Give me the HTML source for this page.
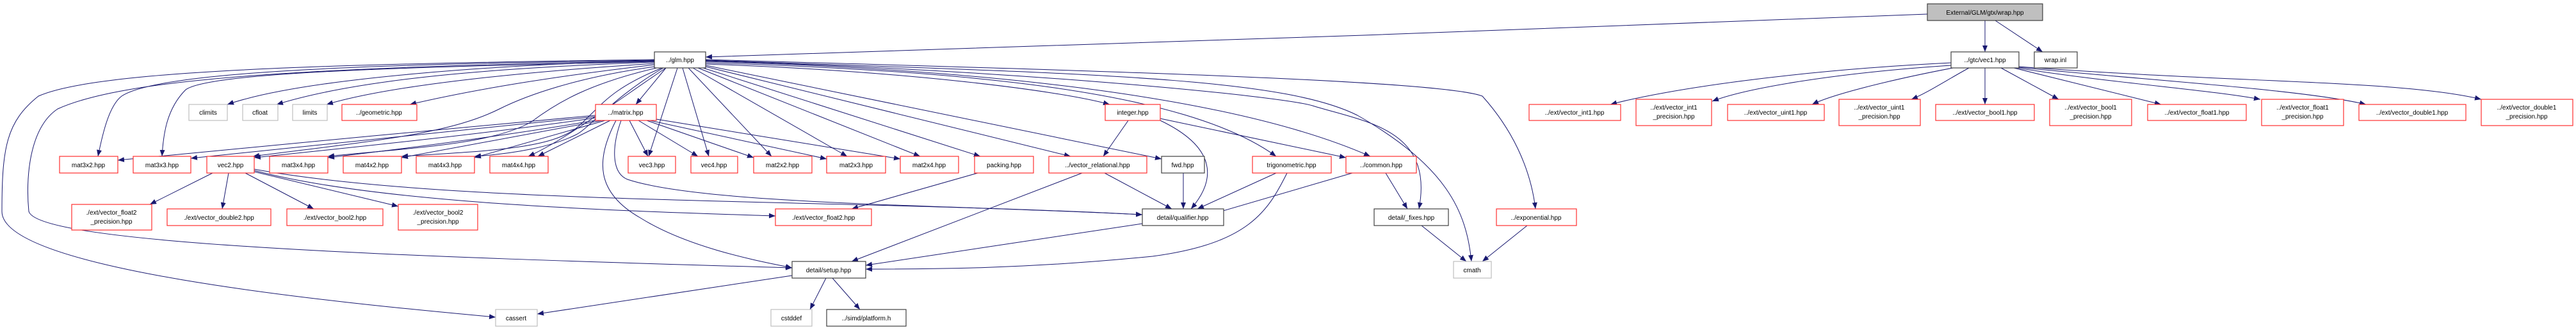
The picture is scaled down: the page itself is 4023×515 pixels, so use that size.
<!DOCTYPE html>
<html><head><meta charset="utf-8"><style>
html,body{margin:0;padding:0;background:#fff;width:4023px;height:515px;overflow:hidden}
svg{display:block}
text{font-family:"Liberation Sans",sans-serif;font-size:10px;fill:#000;text-anchor:middle}
.r{fill:#fff;stroke:#ff3030;stroke-width:1.2}
.k{fill:#fff;stroke:#404040;stroke-width:1.2}
.g{fill:#fff;stroke:#bfbfbf;stroke-width:1.2}
.e{fill:none;stroke:#191970;stroke-width:1}
</style></head><body>
<svg width="4023" height="515" viewBox="0 0 4023 515" xmlns="http://www.w3.org/2000/svg">
<defs><marker id="a" markerWidth="10" markerHeight="8" refX="10" refY="4" orient="auto" markerUnits="userSpaceOnUse"><path d="M0,0 L10,4 L0,8 z" fill="#191970"/></marker></defs>
<g class="e" marker-end="url(#a)">
<!-- wrap.hpp -->
<path d="M3100,32 L3100,81"/>
<path d="M3116,32 L3190,81"/>
<path d="M3010,22 C2500,45 1500,75 1102,89"/>
<!-- vec1 -->
<path d="M3047,98 C2800,110 2600,140 2515,163"/>
<path d="M3047,102 C2850,115 2720,140 2674,158"/>
<path d="M3050,106 C2950,125 2860,148 2830,163"/>
<path d="M3075,106 C3040,125 3010,145 2985,155"/>
<path d="M3100,106 L3100,163"/>
<path d="M3125,106 L3215,155"/>
<path d="M3145,106 L3375,163"/>
<path d="M3150,106 C3300,130 3450,140 3530,155"/>
<path d="M3152,105 C3350,125 3600,140 3695,163"/>
<path d="M3153,104 C3500,130 3750,125 3875,155"/>
<!-- glm -->
<path d="M1022,93 C500,100 150,110 60,150 C10,190 3,230 3,330 C3,420 500,470 774,495"/>
<path d="M1022,95 C500,105 200,120 90,170 C45,200 40,280 45,330 C60,380 600,400 1237,418"/>
<path d="M1022,94 C600,100 250,110 190,150 C170,165 160,210 153,244"/>
<path d="M1022,96 C700,104 330,110 290,140 C260,170 255,210 253,244"/>
<path d="M1022,95 C800,100 480,120 355,163"/>
<path d="M1022,97 C800,105 570,120 432,163"/>
<path d="M1022,99 C850,110 620,130 510,163"/>
<path d="M1022,101 C900,115 760,135 640,163"/>
<path d="M1030,103 C900,120 820,150 780,170 C700,210 580,220 395,244"/>
<path d="M1030,105 C920,130 870,160 830,190 C770,225 650,230 512,244"/>
<path d="M1034,106 C950,140 940,165 900,200 C860,230 780,235 627,244"/>
<path d="M1036,106 C960,150 920,200 900,210 C860,230 800,240 741,244"/>
<path d="M1040,106 C960,160 880,220 825,244"/>
<path d="M1040,106 L993,163"/>
<path d="M1058,106 L1013,244"/>
<path d="M1066,106 L1107,244"/>
<path d="M1075,106 L1205,244"/>
<path d="M1082,106 L1323,244"/>
<path d="M1090,106 L1437,244"/>
<path d="M1098,106 L1531,244"/>
<path d="M1102,104 L1672,244"/>
<path d="M1102,102 L1814,248"/>
<path d="M1102,100 C1400,110 1650,140 1733,163"/>
<path d="M1102,98 C1500,110 1850,140 1993,244"/>
<path d="M1102,96 C1600,110 1950,160 2140,244"/>
<path d="M1102,95 C1600,110 2000,150 2050,165 C2130,190 2240,200 2216,326"/>
<path d="M1102,94 C1700,115 2000,120 2120,180 C2260,260 2290,330 2298,408"/>
<path d="M1102,93 C1700,110 2250,125 2315,150 C2360,200 2390,260 2398,326"/>
<!-- matrix -->
<path d="M930,180 C700,200 400,230 184,250"/>
<path d="M930,182 C700,205 450,230 298,247"/>
<path d="M930,184 C750,210 550,230 397,246"/>
<path d="M935,187 C800,210 650,230 512,246"/>
<path d="M940,188 L627,246"/>
<path d="M945,188 L741,246"/>
<path d="M953,188 L840,244"/>
<path d="M983,188 L1012,244"/>
<path d="M997,188 L1090,244"/>
<path d="M1010,188 L1177,246"/>
<path d="M1015,188 L1291,248"/>
<path d="M1025,186 L1406,248"/>
<path d="M962,188 C930,250 930,300 1000,340 C1080,390 1200,410 1237,418"/>
<path d="M970,188 C955,230 955,270 980,280 C1100,320 1500,320 1784,335"/>
<!-- vec2 -->
<path d="M332,270 L234,319"/>
<path d="M357,270 L347,326"/>
<path d="M383,270 L490,326"/>
<path d="M397,268 L622,322"/>
<path d="M397,266 C600,320 1000,330 1211,337"/>
<path d="M397,264 C700,320 1300,310 1784,335"/>
<!-- others -->
<path d="M1527,270 L1330,326"/>
<path d="M1762,188 L1723,244"/>
<path d="M1812,188 C1900,230 1900,280 1860,326"/>
<path d="M1812,185 L2102,246"/>
<path d="M1725,270 L1830,326"/>
<path d="M1690,270 L1330,408"/>
<path d="M1848,270 L1848,326"/>
<path d="M1993,270 L1870,326"/>
<path d="M2010,270 C1980,330 1950,380 1800,400 C1600,420 1450,420 1352,420"/>
<path d="M2112,270 L1900,332"/>
<path d="M2164,270 L2198,326"/>
<path d="M1784,349 L1352,414"/>
<path d="M2220,352 L2290,408"/>
<path d="M2385,352 L2315,408"/>
<path d="M1237,430 L839,490"/>
<path d="M1290,434 L1265,483"/>
<path d="M1300,434 L1343,483"/>
</g>
<!-- nodes -->
<rect x="3010" y="6" width="180" height="26" fill="#bfbfbf" stroke="#404040" stroke-width="1.2"/><text x="3100" y="23">External/GLM/gtx/wrap.hpp</text>
<rect class="k" x="1022" y="81" width="80" height="25"/><text x="1062" y="97">../glm.hpp</text>
<rect class="k" x="3047" y="81" width="106" height="25"/><text x="3100" y="97">../gtc/vec1.hpp</text>
<rect class="k" x="3177" y="81" width="67" height="25"/><text x="3210" y="97">wrap.inl</text>
<rect class="g" x="295" y="163" width="60" height="25"/><text x="325" y="179">climits</text>
<rect class="g" x="379" y="163" width="55" height="25"/><text x="406" y="179">cfloat</text>
<rect class="g" x="457" y="163" width="54" height="25"/><text x="484" y="179">limits</text>
<rect class="r" x="534" y="163" width="117" height="25"/><text x="592" y="179">../geometric.hpp</text>
<rect class="r" x="930" y="163" width="95" height="25"/><text x="977" y="179">../matrix.hpp</text>
<rect class="r" x="1726" y="163" width="86" height="25"/><text x="1769" y="179">integer.hpp</text>
<rect class="r" x="2388" y="163" width="143" height="25"/><text x="2459" y="179">../ext/vector_int1.hpp</text>
<rect class="r" x="2555" y="155" width="118" height="41"/><text x="2614" y="171">../ext/vector_int1</text><text x="2614" y="185">_precision.hpp</text>
<rect class="r" x="2698" y="163" width="151" height="25"/><text x="2773" y="179">../ext/vector_uint1.hpp</text>
<rect class="r" x="2872" y="155" width="127" height="41"/><text x="2935" y="171">../ext/vector_uint1</text><text x="2935" y="185">_precision.hpp</text>
<rect class="r" x="3023" y="163" width="154" height="25"/><text x="3100" y="179">../ext/vector_bool1.hpp</text>
<rect class="r" x="3201" y="155" width="128" height="41"/><text x="3265" y="171">../ext/vector_bool1</text><text x="3265" y="185">_precision.hpp</text>
<rect class="r" x="3354" y="163" width="154" height="25"/><text x="3431" y="179">../ext/vector_float1.hpp</text>
<rect class="r" x="3532" y="155" width="128" height="41"/><text x="3596" y="171">../ext/vector_float1</text><text x="3596" y="185">_precision.hpp</text>
<rect class="r" x="3684" y="163" width="167" height="25"/><text x="3767" y="179">../ext/vector_double1.hpp</text>
<rect class="r" x="3875" y="155" width="143" height="41"/><text x="3946" y="171">../ext/vector_double1</text><text x="3946" y="185">_precision.hpp</text>
<rect class="r" x="93" y="244" width="91" height="26"/><text x="138" y="261">mat3x2.hpp</text>
<rect class="r" x="208" y="244" width="90" height="26"/><text x="253" y="261">mat3x3.hpp</text>
<rect class="r" x="323" y="244" width="74" height="26"/><text x="360" y="261">vec2.hpp</text>
<rect class="r" x="421" y="244" width="91" height="26"/><text x="466" y="261">mat3x4.hpp</text>
<rect class="r" x="536" y="244" width="91" height="26"/><text x="581" y="261">mat4x2.hpp</text>
<rect class="r" x="650" y="244" width="91" height="26"/><text x="695" y="261">mat4x3.hpp</text>
<rect class="r" x="765" y="244" width="91" height="26"/><text x="810" y="261">mat4x4.hpp</text>
<rect class="r" x="981" y="244" width="74" height="26"/><text x="1018" y="261">vec3.hpp</text>
<rect class="r" x="1079" y="244" width="73" height="26"/><text x="1115" y="261">vec4.hpp</text>
<rect class="r" x="1177" y="244" width="91" height="26"/><text x="1222" y="261">mat2x2.hpp</text>
<rect class="r" x="1291" y="244" width="92" height="26"/><text x="1337" y="261">mat2x3.hpp</text>
<rect class="r" x="1406" y="244" width="91" height="26"/><text x="1451" y="261">mat2x4.hpp</text>
<rect class="r" x="1522" y="244" width="92" height="26"/><text x="1568" y="261">packing.hpp</text>
<rect class="r" x="1638" y="244" width="153" height="26"/><text x="1714" y="261">../vector_relational.hpp</text>
<rect class="k" x="1814" y="244" width="67" height="26"/><text x="1847" y="261">fwd.hpp</text>
<rect class="r" x="1956" y="244" width="123" height="26"/><text x="2017" y="261">trigonometric.hpp</text>
<rect class="r" x="2102" y="244" width="110" height="26"/><text x="2157" y="261">../common.hpp</text>
<rect class="r" x="112" y="319" width="125" height="40"/><text x="174" y="335">./ext/vector_float2</text><text x="174" y="349">_precision.hpp</text>
<rect class="r" x="261" y="326" width="162" height="26"/><text x="342" y="343">./ext/vector_double2.hpp</text>
<rect class="r" x="448" y="326" width="150" height="26"/><text x="523" y="343">./ext/vector_bool2.hpp</text>
<rect class="r" x="622" y="319" width="124" height="40"/><text x="684" y="335">./ext/vector_bool2</text><text x="684" y="349">_precision.hpp</text>
<rect class="r" x="1211" y="326" width="150" height="26"/><text x="1286" y="343">./ext/vector_float2.hpp</text>
<rect class="k" x="1784" y="326" width="127" height="26"/><text x="1847" y="343">detail/qualifier.hpp</text>
<rect class="k" x="2146" y="326" width="116" height="26"/><text x="2204" y="343">detail/_fixes.hpp</text>
<rect class="r" x="2337" y="326" width="125" height="26"/><text x="2399" y="343">../exponential.hpp</text>
<rect class="k" x="1237" y="408" width="115" height="26"/><text x="1294" y="425">detail/setup.hpp</text>
<rect class="g" x="2270" y="408" width="59" height="26"/><text x="2299" y="425">cmath</text>
<rect class="g" x="774" y="483" width="65" height="26"/><text x="806" y="500">cassert</text>
<rect class="g" x="1204" y="483" width="64" height="26"/><text x="1236" y="500">cstddef</text>
<rect class="k" x="1291" y="483" width="124" height="26"/><text x="1353" y="500">../simd/platform.h</text>
</svg>
</body></html>
